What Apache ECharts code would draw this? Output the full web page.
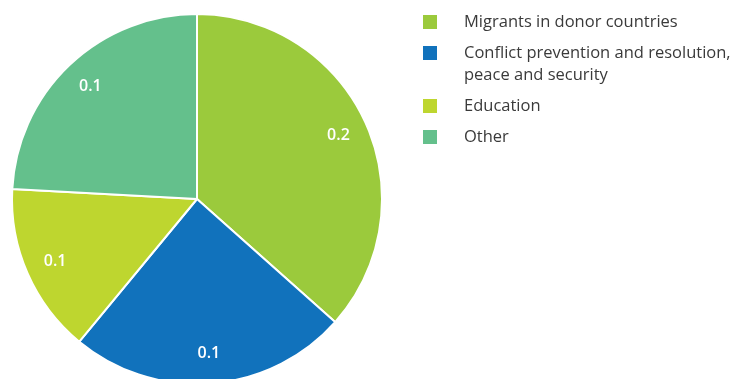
<!DOCTYPE html>
<html style="height: 100%">
<head>
    <meta charset="utf-8">
    <script src="https://cdn.jsdelivr.net/npm/echarts@6/dist/echarts.min.js"></script>
</head>
<body style="height: 100%; margin: 0; background: #fff">
    <div id="container" style="width: 735px; height: 379px;"></div>
    <script type="text/javascript">
        var categories = ['Migrants in donor countries', 'Conflict prevention and resolution,\npeace and security', 'Education', 'Other'];
        var values = [0.15, 0.1, 0.061, 0.099];
        var colors = ['#9BCA3C', '#1172BC', '#BED62F', '#64C08C'];

        var pieData = categories.map(function (name, i) {
            return { name: name, value: values[i], itemStyle: { color: colors[i] } };
        });
        // same values, invisible, only to push labels out towards the rim
        var labelData = categories.map(function (name, i) {
            return { name: name, value: values[i], itemStyle: { color: 'rgba(0,0,0,0)' } };
        });

        var legendText = { fontFamily: 'Open Sans', fontSize: 16.5, color: '#3a3a3a', lineHeight: 22, padding: [0, 0, 0, 21] };

        var myChart = echarts.init(document.getElementById('container'));
        var option = {
            animation: false,
            legend: [
                {
                    orient: 'vertical', left: 421, top: 11, padding: 0,
                    itemWidth: 16, itemHeight: 16, itemGap: 9, icon: 'rect',
                    textStyle: legendText,
                    data: [categories[0]]
                },
                {
                    orient: 'vertical', left: 421, top: 20, padding: 0,
                    itemWidth: 16, itemHeight: 16, itemGap: 9, icon: 'rect',
                    textStyle: legendText,
                    // blank first line so the square sits beside the first line of text
                    formatter: function (name) {
                        return name === categories[1] ? '\n' + name : name;
                    },
                    data: [categories[1], categories[2], categories[3]]
                }
            ],
            series: [
                {
                    type: 'pie',
                    center: [197, 199],
                    radius: [0, 185],
                    startAngle: 90,
                    clockwise: true,
                    label: { show: false },
                    labelLine: { show: false },
                    itemStyle: { borderColor: '#fff', borderWidth: 2 },
                    emphasis: { disabled: true },
                    data: pieData
                },
                {
                    type: 'pie',
                    center: [197, 199],
                    radius: [119, 185],
                    startAngle: 90,
                    clockwise: true,
                    silent: true,
                    label: {
                        show: true,
                        position: 'inside',
                        color: '#fff',
                        fontFamily: 'Open Sans',
                        fontWeight: 600,
                        fontSize: 16,
                        formatter: function (p) {
                            return (Math.round(p.value * 10) / 10).toFixed(1);
                        }
                    },
                    labelLine: { show: false },
                    emphasis: { disabled: true },
                    data: labelData
                }
            ]
        };
        myChart.setOption(option);
    </script>
</body>
</html>
